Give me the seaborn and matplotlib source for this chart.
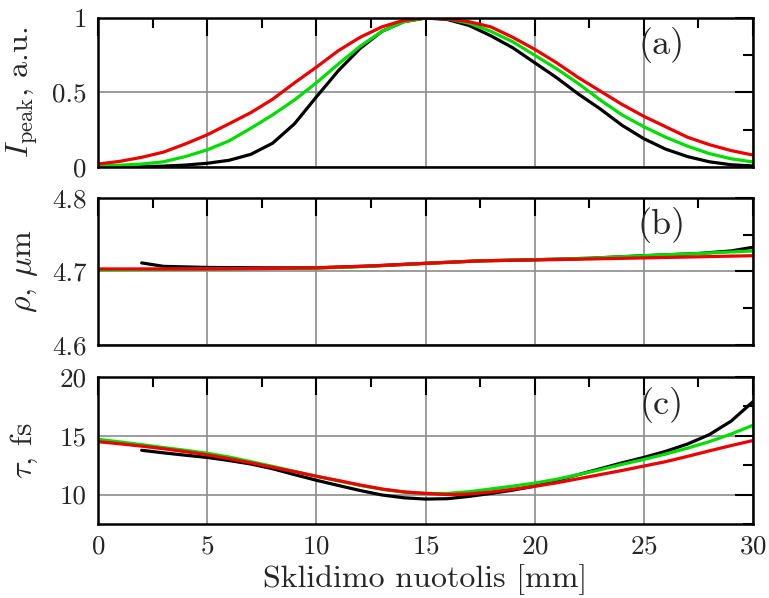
import numpy as np
import pandas as pd
import matplotlib
matplotlib.use("Agg")
import matplotlib.pyplot as plt
import seaborn as sns
from matplotlib.ticker import MultipleLocator

# ---------------- data ----------------
x_a = list(range(0, 31))
ipeak_black = [0.0, 0.0, 0.002, 0.006, 0.013, 0.025, 0.045, 0.085, 0.16, 0.29, 0.47,
               0.645, 0.795, 0.91, 0.975, 1.0, 0.99, 0.95, 0.88, 0.8, 0.7,
               0.6, 0.49, 0.39, 0.28, 0.19, 0.12, 0.07, 0.035, 0.015, 0.007]
ipeak_green = [0.007, 0.012, 0.02, 0.035, 0.07, 0.115, 0.175, 0.26, 0.35, 0.45, 0.565,
               0.69, 0.81, 0.91, 0.975, 1.0, 0.995, 0.965, 0.91, 0.84, 0.75,
               0.66, 0.56, 0.45, 0.35, 0.27, 0.2, 0.14, 0.09, 0.055, 0.034]
ipeak_red = [0.02, 0.038, 0.065, 0.1, 0.155, 0.216, 0.29, 0.365, 0.455, 0.565, 0.67,
             0.78, 0.87, 0.94, 0.985, 1.0, 0.995, 0.975, 0.94, 0.87, 0.79,
             0.7, 0.6, 0.51, 0.42, 0.34, 0.27, 0.2, 0.15, 0.11, 0.08]

x_b = [0, 2.5, 5, 7.5, 10, 12.5, 15, 17.5, 20, 22.5, 25, 27.5, 30]
x_b_black = [2, 3, 5, 7.5, 10, 12.5, 15, 17.5, 20, 22.5, 25, 27.5, 29, 30]

rho_black = [4.7117, 4.707, 4.7055, 4.705, 4.705, 4.7075, 4.7112, 4.7145, 4.716,
             4.718, 4.7215, 4.7245, 4.728, 4.733]
rho_green = [4.702, 4.7028, 4.7035, 4.704, 4.7045, 4.707, 4.711, 4.7145, 4.716,
             4.718, 4.7215, 4.7245, 4.728]
rho_red = [4.7035, 4.7035, 4.7035, 4.704, 4.705, 4.7075, 4.711, 4.7145, 4.7157,
           4.717, 4.7185, 4.72, 4.7215]

x_c = list(range(0, 31))
x_c_black = list(range(2, 31))
tau_black = [13.77, 13.55, 13.35, 13.16, 12.9, 12.6, 12.2, 11.7, 11.22, 10.78,
             10.35, 9.97, 9.73, 9.62, 9.65, 9.85, 10.1, 10.38, 10.72, 11.2,
             11.7, 12.2, 12.7, 13.16, 13.68, 14.3, 15.1, 16.25, 17.9]
tau_green = [14.7, 14.48, 14.25, 14.0, 13.77, 13.52, 13.2, 12.8, 12.4, 11.98,
             11.56, 11.17, 10.78, 10.45, 10.22, 10.1, 10.1, 10.25, 10.48, 10.72,
             10.98, 11.3, 11.7, 12.12, 12.57, 12.99, 13.45, 13.95, 14.5, 15.15, 15.9]
tau_red = [14.5, 14.32, 14.12, 13.9, 13.65, 13.38, 13.05, 12.7, 12.32, 11.95,
           11.56, 11.2, 10.82, 10.48, 10.23, 10.1, 10.0, 10.05, 10.22, 10.45,
           10.7, 11.0, 11.35, 11.7, 12.05, 12.43, 12.8, 13.25, 13.72, 14.17, 14.6]

panel_labels = ["(a)", "(b)", "(c)"]
ylabels = [r"$I_{\rm peak}$, a.u.", r"$\rho$, $\mu$m", r"$\tau$, fs"]
xlabel = "Sklidimo nuotolis [mm]"

# ---------------- style ----------------
sns.set_style("white")
plt.rcParams["font.family"] = ["cmr10", "DejaVu Serif"]
plt.rcParams["mathtext.fontset"] = "cm"
plt.rcParams["axes.formatter.use_mathtext"] = True
plt.rcParams["axes.unicode_minus"] = False

BLACK = "#000000"
GREEN = "#00DD00"
RED = "#EE0000"
LW = 2.3

fig = plt.figure(figsize=(7.69, 5.98), dpi=100)
L, R = 98 / 769, 753 / 769
boxes = [(18, 167), (198, 345), (377, 524)]
axes = []
for top, bot in boxes:
    ax = fig.add_axes([L, 1 - bot / 598, R - L, (bot - top) / 598])
    axes.append(ax)

def draw(ax, xs, ys, color):
    df = pd.DataFrame({"x": xs, "y": ys})
    sns.lineplot(data=df, x="x", y="y", color=color, lw=LW, ax=ax,
                 estimator=None, sort=True)

# panel a
draw(axes[0], x_a, ipeak_black, BLACK)
draw(axes[0], x_a, ipeak_green, GREEN)
draw(axes[0], x_a, ipeak_red, RED)
# panel b
draw(axes[1], x_b_black, rho_black, BLACK)
draw(axes[1], x_b, rho_green, GREEN)
draw(axes[1], x_b, rho_red, RED)
# panel c
draw(axes[2], x_c_black, tau_black, BLACK)
draw(axes[2], x_c, tau_green, GREEN)
draw(axes[2], x_c, tau_red, RED)

ylims = [(0, 1), (4.6, 4.8), (7.5, 20)]
ymaj = [0.5, 0.1, 5]
ymin = [0.25, 0.05, 2.5]
yfmt = [lambda v, p: ("%g" % v), lambda v, p: ("%.1f" % v), lambda v, p: ("%d" % v)]
label_y = [0.82, 0.816, 0.81]

for i, ax in enumerate(axes):
    ax.set_xlim(0, 30)
    ax.set_ylim(*ylims[i])
    ax.xaxis.set_major_locator(MultipleLocator(5))
    ax.xaxis.set_minor_locator(MultipleLocator(2.5))
    ax.yaxis.set_major_locator(MultipleLocator(ymaj[i]))
    ax.yaxis.set_minor_locator(MultipleLocator(ymin[i]))
    ax.yaxis.set_major_formatter(plt.FuncFormatter(yfmt[i]))
    ax.grid(True, which="major", color="#8c8c8c", lw=1.2)
    ax.set_axisbelow(True)
    ax.tick_params(which="both", direction="in", top=True, right=True,
                   width=1.5, color="black")
    ax.tick_params(which="major", length=13, labelsize=19.5, pad=8)
    ax.tick_params(which="minor", length=7)
    for s in ax.spines.values():
        s.set_linewidth(1.8)
        s.set_color("black")
    ax.set_ylabel(ylabels[i], fontsize=23)
    ax.yaxis.set_label_coords(-0.088, 0.5)
    ax.text(0.861, label_y[i], panel_labels[i], transform=ax.transAxes,
            fontsize=26, ha="center", va="center")
    if i < 2:
        ax.set_xlabel("")
        ax.tick_params(labelbottom=False)
    else:
        ax.set_xlabel(xlabel, fontsize=23, labelpad=4)

fig.savefig("out.png", dpi=100)
